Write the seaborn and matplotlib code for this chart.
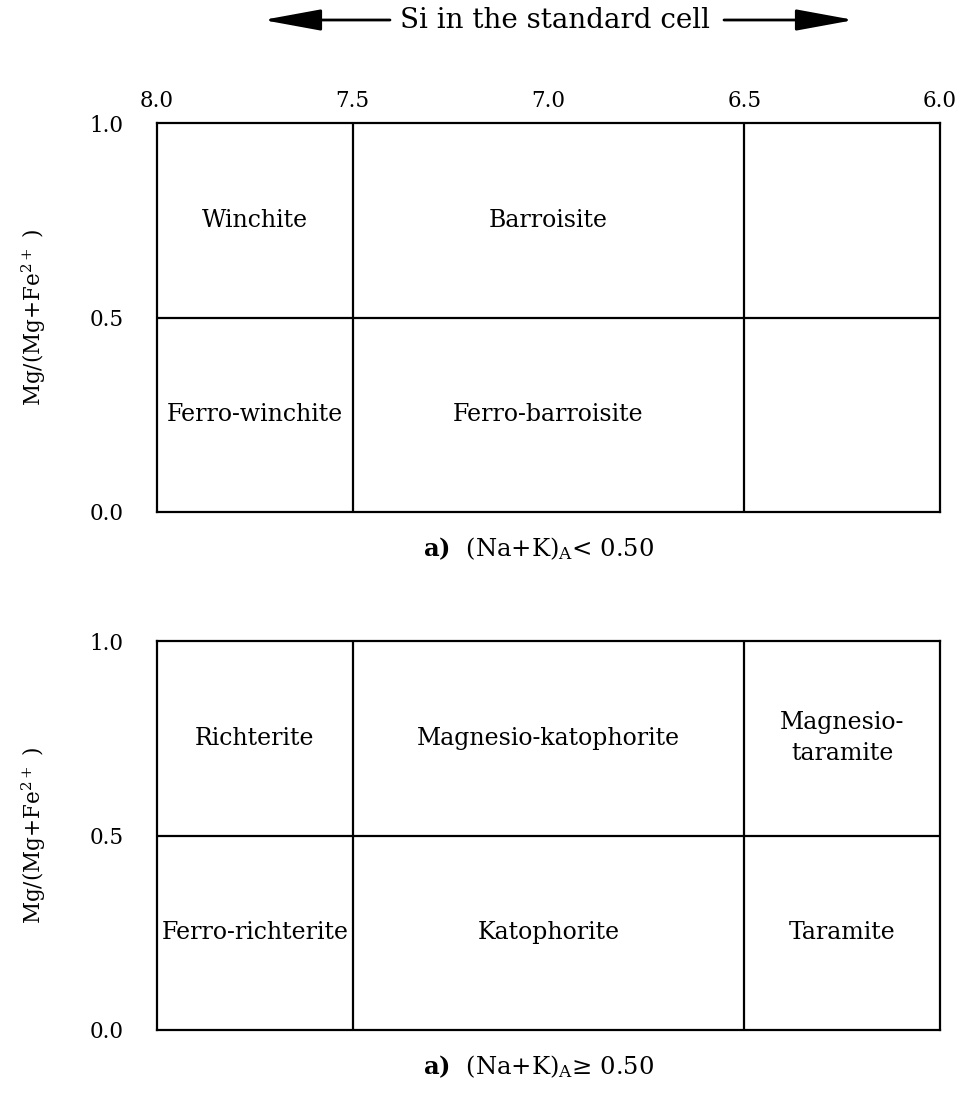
import pandas as pd
import matplotlib
matplotlib.use("Agg")
import matplotlib.pyplot as plt
import seaborn as sns

# Amphibole classification diagram (Si vs Mg/(Mg+Fe2+))
si_bounds = [8.0, 7.5, 6.5, 6.0]
mg_bounds = [0.0, 0.5, 1.0]
si_ticks = [8.0, 7.5, 7.0, 6.5, 6.0]
mg_ticks = [0.0, 0.5, 1.0]

# cell names, rows = [Mg-rich (top), Fe-rich (bottom)], columns = Si fields
names_low_A = [["Winchite", "Barroisite", ""],
               ["Ferro-winchite", "Ferro-barroisite", ""]]
names_high_A = [["Richterite", "Magnesio-katophorite", "Magnesio-\ntaramite"],
                ["Ferro-richterite", "Katophorite", "Taramite"]]
captions = [r"$\mathbf{a)}$  (Na+K)$_{\mathrm{A}}$< 0.50",
            r"$\mathbf{a)}$  (Na+K)$_{\mathrm{A}}$≥ 0.50"]

sns.set_theme(style="white")
plt.rcParams["font.family"] = ["DejaVu Serif"]
plt.rcParams["mathtext.fontset"] = "dejavuserif"
plt.rcParams["text.color"] = "black"
plt.rcParams["axes.labelcolor"] = "black"
plt.rcParams["ytick.color"] = "black"
plt.rcParams["xtick.color"] = "black"

# boundary segments inside the box
segs = []
for i, s in enumerate(si_bounds[1:-1]):
    segs.append({"seg": f"v{i}", "si": s, "mg": mg_bounds[0]})
    segs.append({"seg": f"v{i}", "si": s, "mg": mg_bounds[-1]})
segs.append({"seg": "h", "si": si_bounds[0], "mg": mg_bounds[1]})
segs.append({"seg": "h", "si": si_bounds[-1], "mg": mg_bounds[1]})
seg_df = pd.DataFrame(segs)

fig = plt.figure(figsize=(9.64, 10.98), dpi=100)
ax_top = fig.add_axes([157 / 964, 1 - 512 / 1098, 783 / 964, 389 / 1098])
ax_bot = fig.add_axes([157 / 964, 1 - 1030 / 1098, 783 / 964, 389 / 1098])

fs = 15.5      # tick labels
fs_cell = 17   # field names
for ax, names, cap in [(ax_top, names_low_A, captions[0]), (ax_bot, names_high_A, captions[1])]:
    sns.lineplot(data=seg_df, x="si", y="mg", units="seg", estimator=None, sort=False,
                 color="black", linewidth=1.6, ax=ax)
    ax.set_xlim(si_bounds[0], si_bounds[-1])
    ax.set_ylim(mg_bounds[0], mg_bounds[-1])
    for sp in ax.spines.values():
        sp.set_visible(True)
        sp.set_color("black")
        sp.set_linewidth(1.6)
    ax.set_yticks(mg_ticks)
    ax.set_yticklabels([f"{v:.1f}" for v in mg_ticks], fontsize=fs)
    ax.tick_params(axis="y", length=0, pad=24)
    ax.set_ylabel(r"Mg/(Mg+Fe$^{2+}$ )", fontsize=fs, labelpad=30)
    ax.set_xlabel("")
    for r in range(2):
        y = (mg_bounds[2 - r] + mg_bounds[1 - r]) / 2
        for c in range(3):
            x = (si_bounds[c] + si_bounds[c + 1]) / 2
            if names[r][c]:
                ax.text(x, y, names[r][c], ha="center", va="center", fontsize=fs_cell,
                        linespacing=1.45)
    ax.text(0.488, -0.095, cap, transform=ax.transAxes, ha="center", va="center", fontsize=17.5)

ax_top.xaxis.tick_top()
ax_top.set_xticks(si_ticks)
ax_top.set_xticklabels([f"{v:.1f}" for v in si_ticks], fontsize=fs)
ax_top.tick_params(axis="x", length=0, pad=8)
ax_bot.set_xticks([])

# header with arrows
fig.text(555 / 964, 1 - 21 / 1098, "Si in the standard cell", ha="center", va="center", fontsize=20)
arrow_kw = dict(arrowstyle="-|>,head_length=3.0,head_width=0.55", color="black", lw=2.0)
fig.add_artist(matplotlib.patches.FancyArrowPatch((390 / 964, 1 - 20 / 1098), (263 / 964, 1 - 20 / 1098),
                                                  transform=fig.transFigure, mutation_scale=12,
                                                  shrinkA=0, shrinkB=0, **arrow_kw))
fig.add_artist(matplotlib.patches.FancyArrowPatch((724 / 964, 1 - 20 / 1098), (854 / 964, 1 - 20 / 1098),
                                                  transform=fig.transFigure, mutation_scale=12,
                                                  shrinkA=0, shrinkB=0, **arrow_kw))

fig.savefig("out.png", dpi=100, facecolor="white")
